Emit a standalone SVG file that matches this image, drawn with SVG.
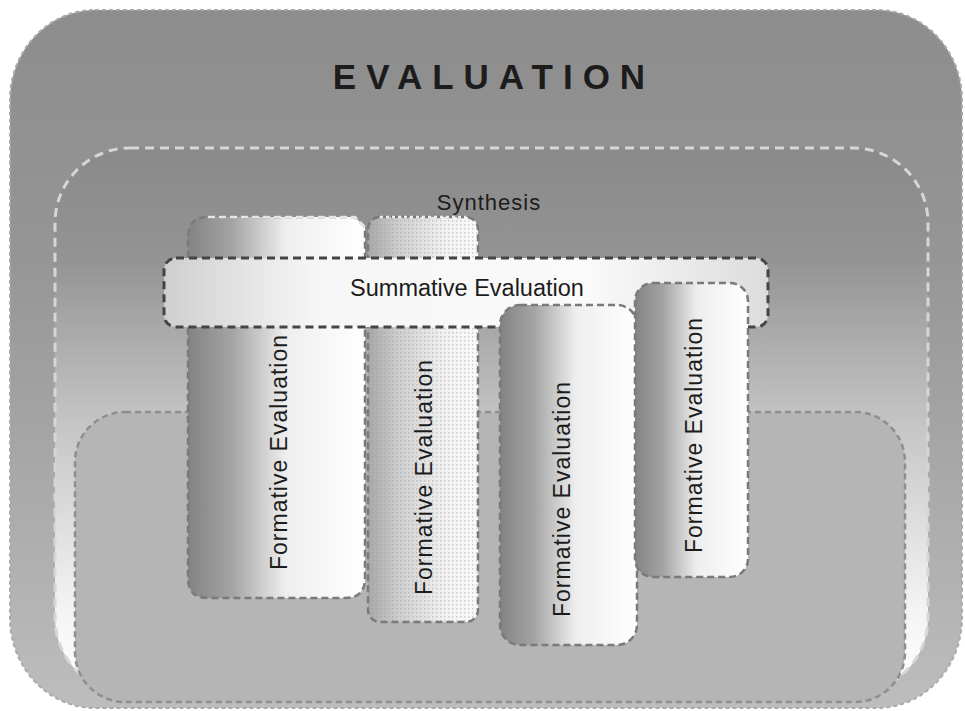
<svg xmlns="http://www.w3.org/2000/svg" width="965" height="711" viewBox="0 0 965 711">
<defs>
  <linearGradient id="gOuter" x1="0" y1="0" x2="0" y2="1">
    <stop offset="0" stop-color="#8d8d8d"/>
    <stop offset="0.35" stop-color="#959595"/>
    <stop offset="1" stop-color="#bdbdbd"/>
  </linearGradient>
  <linearGradient id="gSynth" x1="0" y1="0" x2="0" y2="1">
    <stop offset="0" stop-color="#8a8a8a"/>
    <stop offset="0.2" stop-color="#939393"/>
    <stop offset="0.5" stop-color="#c4c4c4"/>
    <stop offset="0.85" stop-color="#f4f4f4"/>
    <stop offset="1" stop-color="#ffffff"/>
  </linearGradient>
  <linearGradient id="gForm" x1="0" y1="0" x2="1" y2="0">
    <stop offset="0" stop-color="#838383"/>
    <stop offset="0.25" stop-color="#a4a4a4"/>
    <stop offset="0.55" stop-color="#eeeeee"/>
    <stop offset="1" stop-color="#ffffff"/>
  </linearGradient>
  <linearGradient id="gForm2" x1="0" y1="0" x2="1" y2="0">
    <stop offset="0" stop-color="#a8a8a8"/>
    <stop offset="0.3" stop-color="#d0d0d0"/>
    <stop offset="0.7" stop-color="#f2f2f2"/>
    <stop offset="1" stop-color="#fafafa"/>
  </linearGradient>
  <linearGradient id="gSum" x1="0" y1="0" x2="1" y2="0">
    <stop offset="0" stop-color="#cfcfcf"/>
    <stop offset="0.25" stop-color="#f6f6f6"/>
    <stop offset="0.7" stop-color="#fafafa"/>
    <stop offset="1" stop-color="#dcdcdc"/>
  </linearGradient>
  <pattern id="dots" width="4" height="4" patternUnits="userSpaceOnUse">
    <rect x="0" y="0" width="1.5" height="1.5" fill="#9a9a9a" opacity="0.45"/>
  </pattern>
</defs>
<style>
  .t { font-family: "Liberation Sans", Arial, sans-serif; fill: #1c1c1c; }
  .form { stroke: #7a7a7a; stroke-width: 2.5; stroke-dasharray: 7 4; }
  .ft { font-size: 23px; letter-spacing: 1px; text-anchor: middle; }
</style>
<rect width="965" height="711" fill="#ffffff"/>

<g id="evaluation">
  <rect x="10" y="10" width="952" height="698" rx="85" ry="90" fill="url(#gOuter)" stroke="#aaaaaa" stroke-width="2" stroke-dasharray="4 3"/>
  <text class="t" x="494" y="89" font-size="35" font-weight="bold" letter-spacing="10" text-anchor="middle" fill="#111">EVALUATION</text>
</g>

<g id="synthesis">
  <rect x="55" y="148" width="873" height="545" rx="75" ry="75" fill="url(#gSynth)" stroke="#d6d6d6" stroke-width="3" stroke-dasharray="9 6"/>
  <text class="t" x="489" y="210" font-size="22" letter-spacing="1" text-anchor="middle">Synthesis</text>
</g>

<g id="base">
  <rect x="75" y="412" width="830" height="290" rx="50" ry="50" fill="#b5b5b5" stroke="#8e8e8e" stroke-width="2.5" stroke-dasharray="6 4"/>
</g>

<g id="formative1">
  <path d="M208,217 H355 L365,227 V578 Q365,598 345,598 H208 Q188,598 188,578 V237 Q188,217 208,217 Z" fill="url(#gForm)" class="form" stroke="#7a7a7a"/>
  <path d="M208,217 H355 L365,227" fill="none" stroke="#e6e6e6" stroke-width="2.5" stroke-dasharray="7 4"/>
  <text class="t ft" transform="translate(287,452) rotate(-90)">Formative Evaluation</text>
</g>

<g id="formative2">
  <rect x="368" y="217" width="110" height="405" rx="12" ry="12" fill="url(#gForm2)"/>
  <rect x="368" y="217" width="110" height="405" rx="12" ry="12" fill="url(#dots)" class="form" stroke-dasharray="3 3"/>
  <path d="M380,217 H466" fill="none" stroke="#eeeeee" stroke-width="2.5" stroke-dasharray="3 3"/>
  <text class="t ft" transform="translate(432,477) rotate(-90)">Formative Evaluation</text>
</g>

<g id="summative">
  <rect x="164" y="258" width="604" height="69" rx="12" ry="12" fill="url(#gSum)" stroke="#444444" stroke-width="3" stroke-dasharray="8 5"/>
  <text class="t" x="467" y="296" font-size="23.5" text-anchor="middle">Summative Evaluation</text>
</g>

<g id="formative3">
  <rect x="500" y="305" width="137" height="340" rx="20" ry="20" fill="url(#gForm)" class="form"/>
  <text class="t ft" transform="translate(570,499) rotate(-90)">Formative Evaluation</text>
</g>

<g id="formative4">
  <rect x="635" y="283" width="113" height="294" rx="18" ry="18" fill="url(#gForm)" class="form"/>
  <text class="t ft" transform="translate(702,435) rotate(-90)">Formative Evaluation</text>
</g>

<g id="connectors"></g>
</svg>
